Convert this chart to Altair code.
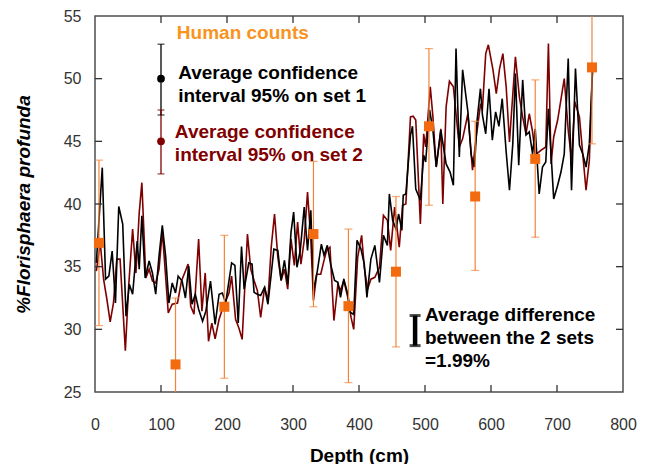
import altair as alt
import pandas as pd

# ---------------- data ----------------
black_depth = [2, 11, 16, 21, 26, 31, 36, 42, 47, 52, 57, 64, 67, 71, 76, 82, 87, 92, 97, 102,
               107, 112, 117, 122, 126, 132, 137, 142, 147, 152, 157, 163, 168, 175, 182, 188, 193, 198, 207, 212,
               217, 222, 226, 233, 238,
               241, 246, 251, 257, 262, 267, 271, 277, 282, 287, 292, 297, 301, 306, 311, 317, 322, 327, 331, 337,
               343, 347, 352, 357, 363, 368, 372, 377, 383, 387, 392, 397, 403, 408, 412, 418, 424, 431,
               437, 443, 446, 451, 456, 460, 465, 467, 471, 478, 481, 486, 493, 498, 501, 507, 512, 517, 524, 532,
               538, 543, 547, 552, 557, 565, 570, 575, 579, 584, 587, 592, 597, 602, 607, 612, 617, 623, 628, 633,
               637, 642, 648, 653, 658, 663, 667, 673, 678, 683, 687, 695, 701, 706, 711, 717, 722, 728, 734, 739,
               744, 749, 754]
black_pct = [35.3, 42.9, 34.0, 34.25, 36.25, 32.1, 39.8, 38.4, 31.05, 33.6, 32.8, 37.05, 34.8, 39.05, 34.1, 35.45, 34.5, 32.8, 35.85, 38.3,
             35.85, 32.1, 33.7, 32.9, 34.25, 33.85, 32.5, 35.05, 32.0, 32.8, 31.6, 30.65, 31.45, 33.85, 30.4, 32.8, 32.9, 32.1, 35.3, 35.1,
             30.5, 36.6, 33.2, 35.3, 35.2,
             32.95, 32.8, 32.7, 33.35, 32.0, 34.4, 36.4, 36.3, 33.9, 35.5, 33.6, 37.75, 39.35, 34.95, 36.3, 39.75, 36.3, 39.5, 33.1, 34.7,
             36.8, 35.9, 36.7, 35.2, 33.9, 33.75, 32.55, 34.0, 32.8, 31.35, 31.2, 37.1, 36.4, 35.2, 32.55, 35.6, 36.7, 33.75,
             37.5, 36.7, 40.8, 38.7, 38.0, 39.2, 37.9, 40.7, 40.8, 45.5, 46.2, 41.2, 40.3, 43.9, 43.35, 47.5, 45.9, 42.95, 45.9, 43.2,
             42.55, 41.5, 52.4, 43.75, 50.7, 47.35, 43.9, 42.95, 46.7, 49.2, 47.1, 45.6, 49.2, 45.1, 47.35, 46.2, 48.4, 44.15, 41.1, 44.8,
             50.4, 43.1, 49.9, 45.5, 45.75, 44.0, 46.0, 40.8, 42.95, 43.35, 47.6, 40.4, 41.5, 42.55, 44.0, 51.6, 41.1, 50.8, 44.7, 44.0,
             42.95, 44.8, 50.95]

red_depth = [2, 8, 13, 18, 23, 28, 33, 38, 46, 51, 57, 62, 67, 71, 77, 82, 87, 92, 97, 102,
             111, 117, 125, 131, 137, 141, 145, 150, 157, 162, 167, 172, 177, 182, 188, 193, 203, 207, 213, 218,
             223, 231, 236,
             241, 246, 251, 257, 262, 267, 272, 277, 282, 287, 292, 297, 302, 307, 312, 317, 322, 327, 331, 336,
             342, 347, 351, 356, 362, 368, 372, 377, 383, 388, 392, 398, 404, 408, 413, 418, 424, 431,
             437, 443, 448, 454, 461, 466, 471, 478, 482, 486, 493, 498, 501, 508, 512, 517, 524, 527, 532, 537,
             543, 552, 557, 565, 572, 577, 584, 587, 592, 596, 603, 608, 613, 618, 623, 628, 637, 643, 648, 653,
             658, 663, 667, 676, 683, 687, 691, 695, 701, 711, 717, 722, 727, 734, 739, 744, 749, 754]
red_pct = [34.65, 36.9, 34.0, 32.4, 30.6, 32.1, 35.6, 35.6, 28.3, 33.45, 38.0, 34.5, 39.3, 41.7, 34.1, 34.8, 33.85, 33.7, 34.8, 37.85,
           31.3, 32.0, 32.1, 33.85, 34.65, 35.2, 31.85, 31.2, 37.2, 31.45, 34.5, 29.05, 30.5, 29.25, 30.8, 31.6, 32.9, 34.25, 30.8, 30.1,
           29.2, 37.6, 34.8,
           33.9, 33.1, 30.95, 33.35, 32.3, 36.55, 39.2, 35.75, 33.9, 34.8, 33.2, 37.2, 35.1, 38.55, 35.2, 37.1, 40.95, 37.2, 32.3, 34.4,
           34.4, 35.5, 36.3, 36.55, 30.7, 33.6, 33.1, 33.9, 32.55, 30.95, 30.0, 35.75, 37.5, 34.95, 33.2, 34.0, 34.15, 34.95,
           39.1, 38.7, 36.3, 39.75, 36.55, 39.9, 40.0, 46.95, 47.0, 46.7, 38.4, 45.6, 44.55, 49.35, 46.95, 42.95, 46.0, 40.0, 47.75, 49.8,
           49.35, 44.55, 45.2, 47.2, 42.7, 45.1, 47.9, 47.6, 52.0, 52.7, 50.7, 48.8, 50.8, 52.0, 49.35, 44.95, 51.75, 48.55, 46.95, 45.6,
           47.2, 45.75, 43.9, 44.3, 44.55, 52.8, 43.2, 45.35, 46.7, 50.0, 45.9, 43.5, 48.15, 46.95, 44.0, 41.1, 43.5, 50.95]

hc_depth = [6, 122, 196, 331, 384, 456, 506, 576, 667, 753]
hc_pct = [36.9, 27.2, 31.8, 37.6, 31.85, 34.6, 46.2, 40.6, 43.6, 50.9]
hc_low = [30.3, 21.9, 26.1, 31.8, 25.75, 28.6, 39.9, 34.7, 37.35, 44.8]
hc_high = [43.5, 32.5, 37.5, 43.4, 38.0, 40.6, 52.4, 46.6, 49.9, 57.0]

x_tick_labels = [0, 100, 200, 300, 400, 500, 600, 700, 800]
y_tick_labels = [25, 30, 35, 40, 45, 50, 55]

# legend / annotation content
legend_depth = [100, 100]
legend_pct = [50.0, 45.0]
legend_low = [47.1, 42.4]
legend_high = [52.75, 47.5]
legend_color = ["#000000", "#800000"]

diff_depth = [485]
diff_low = [28.7]
diff_high = [31.1]

notes_text = ["Human counts",
              "Average confidence\ninterval 95% on set 1",
              "Average confidence\ninterval 95% on set 2",
              "Average difference\nbetween the 2 sets\n=1.99%"]
notes_depth = [124, 126, 121, 500]
notes_pct = [53.2, 50.0, 45.25, 30.7]
notes_color = ["#F7941E", "#000000", "#800000", "#000000"]

# ---------------- tables ----------------
df_black = pd.DataFrame({"depth": black_depth, "pct": black_pct})
df_red = pd.DataFrame({"depth": red_depth, "pct": red_pct})
df_hc = pd.DataFrame({"depth": hc_depth, "pct": hc_pct, "low": hc_low, "high": hc_high})
df_xt = pd.DataFrame({"depth": x_tick_labels[1:-1]})
df_yt = pd.DataFrame({"pct": y_tick_labels[1:-1]})
df_leg = pd.DataFrame({"depth": legend_depth, "pct": legend_pct, "low": legend_low,
                       "high": legend_high, "c": legend_color})
df_diff = pd.DataFrame({"depth": diff_depth, "low": diff_low, "high": diff_high})
df_notes = pd.DataFrame({"depth": notes_depth, "pct": notes_pct, "text": notes_text, "c": notes_color})

W, H = 528, 376
FONT = "Arial, Liberation Sans, Helvetica, sans-serif"

xscale = alt.Scale(domain=[0, 800], nice=False, zero=False)
yscale = alt.Scale(domain=[25, 55], nice=False, zero=False)
xaxis = alt.Axis(values=x_tick_labels, ticks=False, tickSize=0, domain=False, grid=False,
                 labelFont=FONT, labelFontSize=16, labelColor="#333333", labelPadding=24,
                 labelFlush=False,
                 title="Depth (cm)", titleFont=FONT, titleFontSize=19, titleFontWeight="bold",
                 titleColor="#000000", titlePadding=14)
yaxis = alt.Axis(values=y_tick_labels, ticks=False, tickSize=0, domain=False, grid=False,
                 labelFont=FONT, labelFontSize=16, labelColor="#333333", labelPadding=14,
                 labelFlush=False,
                 title="%Florisphaera profunda", titleFont=FONT, titleFontSize=19,
                 titleFontWeight="bold", titleFontStyle="italic", titleColor="#000000",
                 titlePadding=30)


def X(f):
    return alt.X(f, type="quantitative", scale=xscale, axis=xaxis)


def Y(f):
    return alt.Y(f, type="quantitative", scale=yscale, axis=yaxis)


def Y2(f):
    return alt.Y2(f)


red_line = alt.Chart(df_red).mark_line(color="#7F0000", strokeWidth=1.6, clip=True).encode(
    x=X("depth"), y=Y("pct"), order="depth:Q")
black_line = alt.Chart(df_black).mark_line(color="#000000", strokeWidth=1.6, clip=True).encode(
    x=X("depth"), y=Y("pct"), order="depth:Q")

hc_bars = alt.Chart(df_hc).mark_rule(color="#F2843A", strokeWidth=1.2, clip=True).encode(
    x=X("depth"), y=Y("low"), y2=Y2("high"))
hc_cap_lo = alt.Chart(df_hc).transform_filter("datum.low >= 25").mark_tick(
    orient="horizontal", color="#F2843A", size=8, thickness=1.2).encode(x=X("depth"), y=Y("low"))
hc_cap_hi = alt.Chart(df_hc).transform_filter("datum.high <= 55").mark_tick(
    orient="horizontal", color="#F2843A", size=8, thickness=1.2).encode(x=X("depth"), y=Y("high"))
hc_pts = alt.Chart(df_hc).mark_square(color="#F26B11", size=100, opacity=1).encode(
    x=X("depth"), y=Y("pct"))

# inward ticks on all four sides
tick_style = dict(color="#333333", strokeWidth=1.3)
t_bottom = alt.Chart(df_xt).mark_rule(**tick_style).encode(
    x=X("depth"), y=alt.value(H), y2=alt.value(H - 7))
t_top = alt.Chart(df_xt).mark_rule(**tick_style).encode(
    x=X("depth"), y=alt.value(0), y2=alt.value(7))
t_left = alt.Chart(df_yt).mark_rule(**tick_style).encode(
    y=Y("pct"), x=alt.value(0), x2=alt.value(7))
t_right = alt.Chart(df_yt).mark_rule(**tick_style).encode(
    y=Y("pct"), x=alt.value(W), x2=alt.value(W - 7))

# legend glyphs
leg_bars = alt.Chart(df_leg).mark_rule(strokeWidth=1.3).encode(
    x=X("depth"), y=Y("low"), y2=Y2("high"), color=alt.Color("c:N", scale=None))
leg_cap_lo = alt.Chart(df_leg).mark_tick(orient="horizontal", size=7, thickness=1.3).encode(
    x=X("depth"), y=Y("low"), color=alt.Color("c:N", scale=None))
leg_cap_hi = alt.Chart(df_leg).mark_tick(orient="horizontal", size=7, thickness=1.3).encode(
    x=X("depth"), y=Y("high"), color=alt.Color("c:N", scale=None))
leg_dots = alt.Chart(df_leg).mark_circle(size=60, opacity=1).encode(
    x=X("depth"), y=Y("pct"), color=alt.Color("c:N", scale=None))

diff_bar = alt.Chart(df_diff).mark_rule(color="#000000", strokeWidth=4.5).encode(
    x=X("depth"), y=Y("low"), y2=Y2("high"))
diff_cap_lo = alt.Chart(df_diff).mark_tick(orient="horizontal", color="#000000", size=11, thickness=3).encode(
    x=X("depth"), y=Y("low"))
diff_cap_hi = alt.Chart(df_diff).mark_tick(orient="horizontal", color="#000000", size=11, thickness=3).encode(
    x=X("depth"), y=Y("high"))

notes = alt.Chart(df_notes).mark_text(
    align="left", baseline="alphabetic", font=FONT, fontSize=19, fontWeight="bold",
    lineBreak="\n", lineHeight=23).encode(
    x=X("depth"), y=Y("pct"), text="text:N", color=alt.Color("c:N", scale=None))

chart = alt.layer(
    red_line, black_line, hc_bars, hc_cap_lo, hc_cap_hi, hc_pts,
    t_bottom, t_top, t_left, t_right,
    leg_bars, leg_cap_lo, leg_cap_hi, leg_dots,
    diff_bar, diff_cap_lo, diff_cap_hi, notes
).properties(
    width=W, height=H,
    padding={"left": 87, "top": 8, "right": 15, "bottom": 72},
    autosize=alt.AutoSizeParams(type="none"),
    background="#ffffff"
).configure_view(
    stroke="#4d4d4d", strokeWidth=1.5
)

chart.save("out.html", embed_options={"renderer": "svg", "actions": False})
